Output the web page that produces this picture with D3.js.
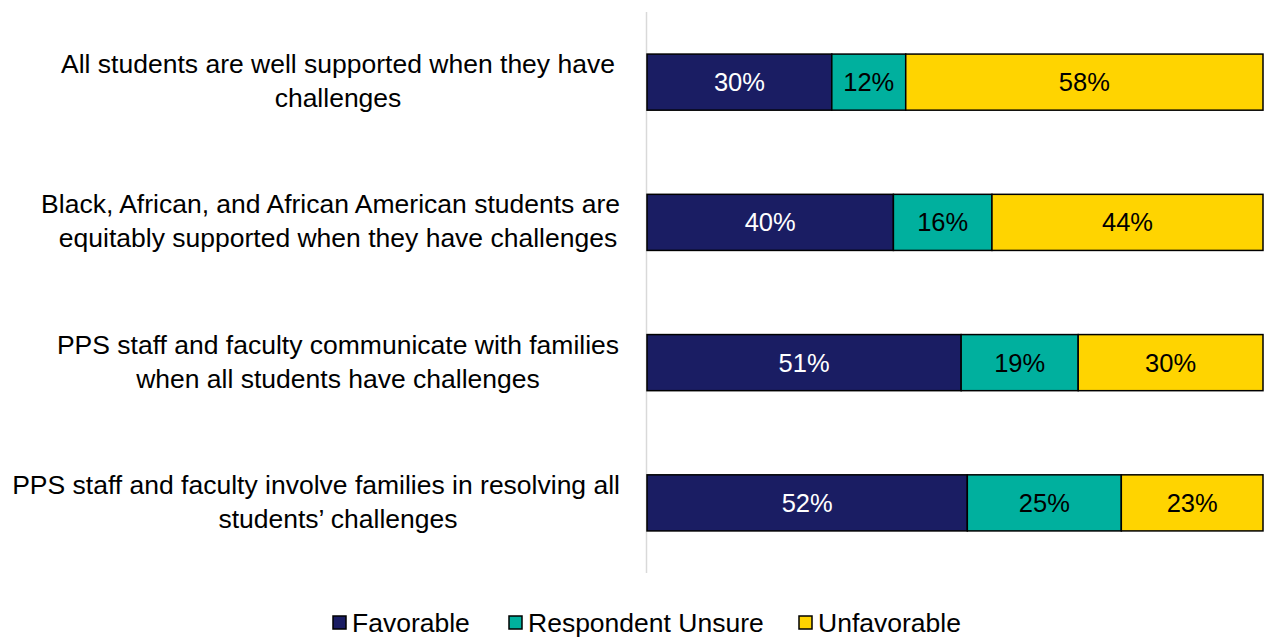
<!DOCTYPE html>
<html>
<head>
<meta charset="utf-8">
<script src="https://cdn.jsdelivr.net/npm/d3@7"></script>
<style>
  html, body { margin: 0; padding: 0; background: #fff; }
  svg { display: block; font-family: "Liberation Sans", Arial, sans-serif; }
</style>
</head>
<body>
<svg id="chart" width="1271" height="639"></svg>
<script>
// Survey statements (each split into its two display lines)
const categories = [
  "All students are well supported when they have challenges",
  "Black, African, and African American students are equitably supported when they have challenges",
  "PPS staff and faculty communicate with families when all students have challenges",
  "PPS staff and faculty involve families in resolving all students’ challenges"
];
const categoryLines = [
  ["All students are well supported when they have", "challenges"],
  ["Black, African, and African American students are", "equitably supported when they have challenges"],
  ["PPS staff and faculty communicate with families", "when all students have challenges"],
  ["PPS staff and faculty involve families in resolving all", "students’ challenges"]
];
const seriesNames = ["Favorable", "Respondent Unsure", "Unfavorable"];
const favorable = [30, 40, 51, 52];
const unsure = [12, 16, 19, 25];
const unfavorable = [58, 44, 30, 23];
const seriesColors = ["#1a1d63", "#00b09e", "#ffd400"];
const labelColors = ["#ffffff", "#000000", "#000000"];

const rows = categories.map((c, i) => ({
  category: c, Favorable: favorable[i], "Respondent Unsure": unsure[i], Unfavorable: unfavorable[i]
}));
const stacked = d3.stack().keys(seriesNames)(rows);

const svg = d3.select("#chart");

const x = d3.scaleLinear().domain([0, 100]).range([647, 1263]);
const y = d3.scaleBand().domain(categories).range([12, 573])
  .paddingInner(0.6).paddingOuter(0.3);

// Vertical category axis line
svg.append("line")
  .attr("x1", 646.5).attr("x2", 646.5)
  .attr("y1", y.range()[0]).attr("y2", y.range()[1])
  .attr("stroke", "#d9d9d9").attr("stroke-width", 1.5);

// Stacked segments
const groups = svg.selectAll("g.series").data(stacked).join("g")
  .attr("class", "series")
  .attr("fill", (d, i) => seriesColors[i]);

groups.selectAll("rect").data(d => d).join("rect")
  .attr("x", d => x(d[0]))
  .attr("y", d => y(d.data.category))
  .attr("width", d => x(d[1]) - x(d[0]))
  .attr("height", y.bandwidth())
  .attr("stroke", "#000").attr("stroke-width", 1.5);

// Value labels
groups.each(function(s, si) {
  d3.select(this).selectAll("text").data(s).join("text")
    .attr("x", d => (x(d[0]) + x(d[1])) / 2)
    .attr("y", d => y(d.data.category) + y.bandwidth() / 2)
    .attr("dy", "0.35em")
    .attr("text-anchor", "middle")
    .attr("font-size", 25.5)
    .attr("fill", labelColors[si])
    .text(d => `${d[1] - d[0]}%`);
});

// Category labels: lines centred on a common axis, kept clear of the bars
const labelCenter = 338;
const labelRightLimit = 620;
categories.forEach((c, i) => {
  const cy = y(c) + y.bandwidth() / 2;
  categoryLines[i].forEach((line, li) => {
    const t = svg.append("text")
      .attr("text-anchor", "middle")
      .attr("font-size", 26.5)
      .attr("fill", "#000")
      .attr("x", labelCenter)
      .attr("y", cy - 9 + li * 34)
      .text(line);
    const w = t.node().getComputedTextLength();
    if (labelCenter + w / 2 > labelRightLimit) t.attr("x", labelRightLimit - w / 2);
  });
});

// Legend
const legendItems = [
  { name: seriesNames[0], x: 333 },
  { name: seriesNames[1], x: 509 },
  { name: seriesNames[2], x: 799 }
];
const legend = svg.selectAll("g.legend").data(legendItems).join("g")
  .attr("class", "legend")
  .attr("transform", d => `translate(${d.x},622)`);
legend.append("rect")
  .attr("x", 0).attr("y", -6).attr("width", 13).attr("height", 13)
  .attr("fill", (d, i) => seriesColors[i])
  .attr("stroke", "#000").attr("stroke-width", 1.5);
legend.append("text")
  .attr("x", 19).attr("dy", "0.36em")
  .attr("font-size", 26.5)
  .text(d => d.name);
</script>
</body>
</html>
